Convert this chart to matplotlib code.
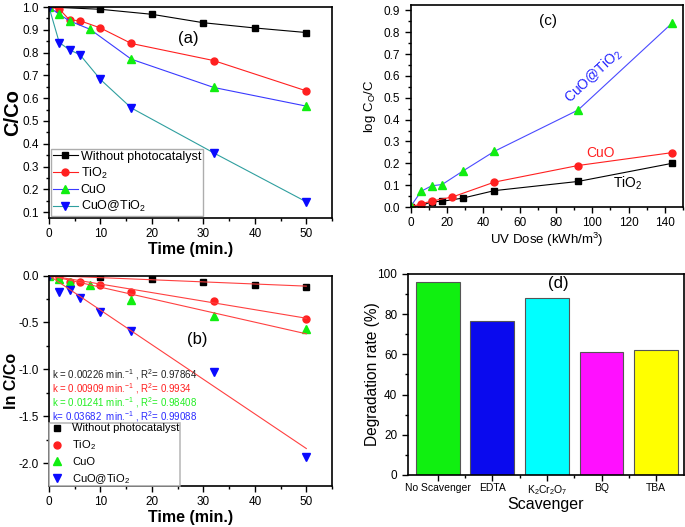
import matplotlib
matplotlib.use("Agg")
import matplotlib.pyplot as plt
from matplotlib.ticker import MultipleLocator
import numpy as np

plt.rcParams['font.family'] = ['Liberation Sans', 'DejaVu Sans']
plt.rcParams['mathtext.default'] = 'regular'
plt.rcParams['axes.unicode_minus'] = False

# ---------------- data (a) ----------------
t_none = [0, 10, 20, 30, 40, 50]
c_none = [1.0, 0.99, 0.968, 0.931, 0.908, 0.888]
t_tio2 = [0, 2, 4, 6, 10, 16, 32, 50]
c_tio2 = [1.0, 0.991, 0.943, 0.94, 0.908, 0.84, 0.765, 0.632]
t_cuo = [0, 2, 4, 8, 16, 32, 50]
c_cuo = [1.0, 0.968, 0.939, 0.902, 0.771, 0.647, 0.565]
t_comp = [0, 2, 4, 6, 10, 16, 32, 50]
c_comp = [1.0, 0.844, 0.812, 0.791, 0.682, 0.557, 0.36, 0.145]

# ---------------- data (b) ----------------
ln_none = [0.0, -0.011, -0.035, -0.071, -0.096, -0.124]
ln_tio2 = [0.0, -0.021, -0.064, -0.067, -0.096, -0.177, -0.27, -0.461]
ln_cuo = [0.0, -0.035, -0.064, -0.103, -0.262, -0.426, -0.567]
ln_comp = [-0.01, -0.177, -0.156, -0.238, -0.387, -0.589, -1.028, -1.936]
k_vals = [0.00226, 0.00909, 0.01241, 0.03682]
r2_vals = ["0.97864", "0.9934", "0.98408", "0.99088"]
k_strs = ["0.00226", "0.00909", "0.01241", "0.03682"]

# ---------------- data (c) ----------------
dose_tio2 = [0, 5.76, 11.5, 17.3, 28.8, 46.1, 92.2, 144]
log_tio2 = [0, 0.006, 0.024, 0.026, 0.041, 0.075, 0.117, 0.2]
dose_cuo = [0, 5.76, 11.5, 23.0, 46.1, 92.2, 144]
log_cuo = [0, 0.015, 0.027, 0.046, 0.114, 0.19, 0.249]
dose_comp = [0, 5.76, 11.5, 17.3, 28.8, 46.1, 92.2, 144]
log_comp = [0.003, 0.072, 0.097, 0.103, 0.165, 0.255, 0.444, 0.842]

# ---------------- data (d) ----------------
scavengers = ["No Scavenger", "EDTA", r"K$_2$Cr$_2$O$_7$", "BQ", "TBA"]
degradation = [96.2, 76.5, 87.9, 61.0, 62.0]
bar_colors = ['#10f010', '#0a0aee', '#00ffff', '#ff10ff', '#ffff00']

GREEN = '#10ee10'
BLUE = '#0a0aff'
TEAL = '#2f9f9f'
TICK = 8.5

fig = plt.figure(figsize=(6.85, 5.27), dpi=100)
axa = fig.add_axes([0.0715, 0.5863, 0.4132, 0.4004])
axb = fig.add_axes([0.0715, 0.0778, 0.4132, 0.3994])
axc = fig.add_axes([0.5996, 0.6072, 0.3974, 0.3833])
axd = fig.add_axes([0.5952, 0.0987, 0.4033, 0.3814])


def style(ax):
    for s in ax.spines.values():
        s.set_linewidth(1.2)
    ax.tick_params(which='both', direction='out', top=False, right=False,
                   labelsize=TICK, width=1.0)
    ax.tick_params(which='major', length=4)
    ax.tick_params(which='minor', length=2.5)


ms = 5
lw = 0.8
# ---------- (a) ----------
axa.plot(t_none, c_none, '-s', color='black', ms=ms - 0.5, lw=lw, label='Without photocatalyst')
axa.plot(t_tio2, c_tio2, '-o', color='#ff2020', ms=ms, lw=lw, label='TiO$_2$')
axa.plot(t_cuo, c_cuo, '-', color='#3a3aff', lw=lw, marker='^', mfc=GREEN, mec=GREEN, ms=ms + 0.5,
         label='CuO')
axa.plot(t_comp, c_comp, '-', color=TEAL, lw=lw, marker='v', mfc=BLUE, mec=BLUE, ms=ms + 0.5,
         label='CuO@TiO$_2$')
axa.set_xlim(0, 55)
axa.set_ylim(0.074, 1.0)
axa.xaxis.set_major_locator(MultipleLocator(10))
axa.xaxis.set_minor_locator(MultipleLocator(5))
axa.yaxis.set_major_locator(MultipleLocator(0.1))
axa.yaxis.set_minor_locator(MultipleLocator(0.05))
style(axa)
axa.set_xlabel('Time (min.)', fontsize=11.5, fontweight='bold', labelpad=1)
axa.set_ylabel('C/Co', fontsize=14.5, fontweight='bold')
axa.yaxis.set_label_coords(-0.094, 0.5)
axa.text(27, 0.86, '(a)', fontsize=12, ha='center', va='center')
leg = axa.legend(loc='lower left', fontsize=9, frameon=True, fancybox=False,
                 edgecolor='#999999', borderaxespad=0.15, handlelength=2.0,
                 labelspacing=0.25, borderpad=0.15, handletextpad=0.25)
leg.get_frame().set_linewidth(1.0)

# ---------- (b) ----------
axb.plot(t_none, ln_none, 's', color='black', ms=ms - 0.5, label='Without photocatalyst')
axb.plot(t_tio2, ln_tio2, 'o', color='#ff2020', ms=ms, label='TiO$_2$')
axb.plot(t_cuo, ln_cuo, '^', color=GREEN, ms=ms + 0.5, label='CuO')
axb.plot(t_comp, ln_comp, 'v', color=BLUE, ms=ms + 0.5, label='CuO@TiO$_2$')
tfit = np.array([0, 50])
for k in k_vals:
    axb.plot(tfit, -k * tfit, '-', color='#ff4040', lw=0.8)
axb.set_xlim(0, 55)
axb.set_ylim(-2.24, 0)
axb.xaxis.set_major_locator(MultipleLocator(10))
axb.xaxis.set_minor_locator(MultipleLocator(5))
axb.yaxis.set_major_locator(MultipleLocator(0.5))
axb.yaxis.set_minor_locator(MultipleLocator(0.25))
style(axb)
axb.set_xlabel('Time (min.)', fontsize=11.5, fontweight='bold', labelpad=1)
axb.set_ylabel('ln C/Co', fontsize=11.5, fontweight='bold')
axb.yaxis.set_label_coords(-0.107, 0.5)
axb.text(28.8, -0.677, '(b)', fontsize=12, ha='center', va='center')
txt_colors = ['#202020', '#ff2020', '#22ee22', '#2a2aff']
for i, (ks, r2, col) in enumerate(zip(k_strs, r2_vals, txt_colors)):
    pre = 'k = ' if i < 3 else 'k= '
    sep = ' min.$^{-1}$ , R$^2$= ' if i < 3 else '  min.$^{-1}$ , R$^2$= '
    axb.text(0.012, 0.527 - i * 0.0665, pre + ks + sep + r2, transform=axb.transAxes,
             fontsize=7, color=col, ha='left', va='center')
legb = axb.legend(loc='lower left', fontsize=8, frameon=True, fancybox=False,
                  edgecolor='#aaaaaa', borderaxespad=0.0, handlelength=1.5,
                  labelspacing=0.45, borderpad=0.0, handletextpad=0.6)
legb.get_frame().set_linewidth(1.2)

# ---------- (c) ----------
axc.plot(dose_tio2, log_tio2, '-s', color='black', ms=ms - 0.5, lw=lw)
axc.plot(dose_cuo, log_cuo, '-o', color='#ff2020', ms=ms, lw=lw)
axc.plot(dose_comp, log_comp, '-', color='#4a4aff', lw=lw, marker='^', mfc=GREEN, mec=GREEN,
         ms=ms + 0.5)
axc.set_xlim(0, 150)
axc.set_ylim(0, 0.925)
axc.xaxis.set_major_locator(MultipleLocator(20))
axc.xaxis.set_minor_locator(MultipleLocator(10))
axc.yaxis.set_major_locator(MultipleLocator(0.1))
axc.yaxis.set_minor_locator(MultipleLocator(0.05))
style(axc)
axc.set_xlabel('UV Dose (kWh/m$^3$)', fontsize=9.5, labelpad=1)
axc.set_ylabel('log C$_O$/C', fontsize=9.5)
axc.yaxis.set_label_coords(-0.122, 0.5)
axc.text(75.9, 0.853, '(c)', fontsize=11, ha='center', va='center')
axc.text(100.7, 0.6, 'CuO@TiO$_2$', fontsize=10, color='#2222ff', rotation=43,
         ha='center', va='center', rotation_mode='anchor')
axc.text(104.6, 0.249, 'CuO', fontsize=10, color='#ff2020', ha='center', va='center')
axc.text(119.5, 0.107, 'TiO$_2$', fontsize=10, color='black', ha='center', va='center')

# ---------- (d) ----------
xpos = np.arange(len(scavengers))
axd.bar(xpos, degradation, width=0.8, color=bar_colors, edgecolor='#555555', linewidth=0.8)
axd.set_xlim(-0.55, 4.51)
axd.set_ylim(0, 100)
axd.set_xticks(xpos)
axd.set_xticklabels(scavengers, fontsize=7.5)
axd.set_xticks(xpos[:-1] + 0.5, minor=True)
axd.yaxis.set_major_locator(MultipleLocator(20))
axd.yaxis.set_minor_locator(MultipleLocator(10))
style(axd)
axd.tick_params(axis='x', labelsize=7.5, pad=2)
axd.set_xlabel('Scavenger', fontsize=11.5, labelpad=0)
axd.set_ylabel('Degradation rate (%)', fontsize=11.2)
axd.yaxis.set_label_coords(-0.1, 0.5)
axd.text(2.2, 95.5, '(d)', fontsize=12, ha='center', va='center')

fig.savefig('out.png', dpi=100)
